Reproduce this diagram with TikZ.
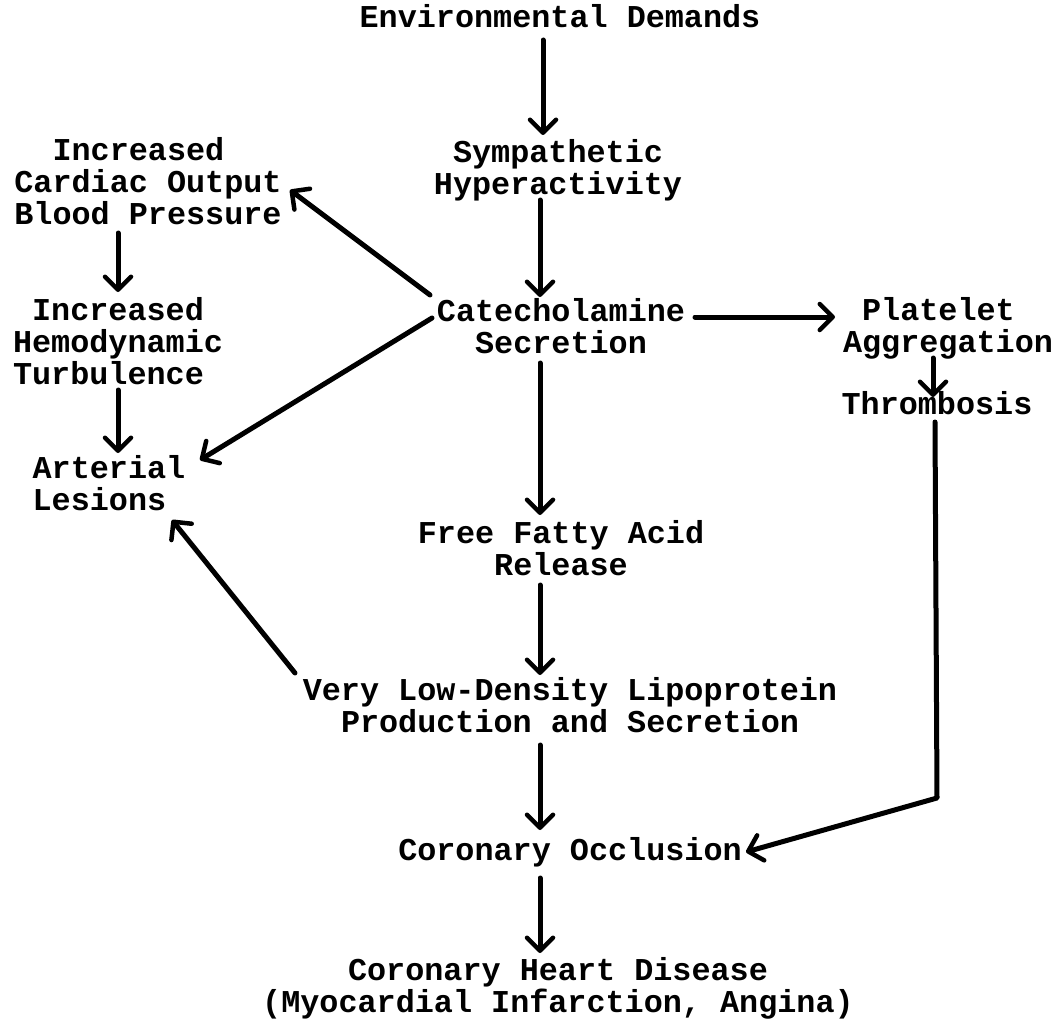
\documentclass[tikz,border=0pt]{standalone}
\usepackage{fontspec}
\setmainfont{Liberation Mono}
\usetikzlibrary{arrows.meta}
\newcommand\indch[1]{\hspace*{#1\dimexpr 19.08pt\relax}}
\begin{document}
\begin{tikzpicture}[x=1pt,y=-1pt,
  lbl/.style={font=\fontsize{31.8}{32}\selectfont\bfseries, align=center, anchor=base, inner sep=0pt},
  arr/.style={line width=5pt, line cap=round, line join=round,
    -{Straight Barb[length=13pt,width=26pt,line width=4.5pt,round]}}]
\useasboundingbox[fill=white] (0,0) rectangle (1058,1030);

% node positions: base anchor = baseline of the last line
\node[lbl] (env)  at (560,28)   {Environmental Demands};
\node[lbl] (symp) at (558,194)  {Sympathetic\\Hyperactivity};
\node[lbl] (cat)  at (561,353)  {Catecholamine\\Secretion};
\node[lbl,align=left] (card) at (148,224)  {\indch{2}Increased\\Cardiac Output\\Blood Pressure};
\node[lbl,align=left] (hemo) at (118,384)  {\indch{1}Increased\\Hemodynamic\\Turbulence};
\node[lbl,align=left] (art)  at (109,510)  {Arterial\\Lesions};
\node[lbl,align=left] (plat) at (948,352)  {\indch{1}Platelet\\Aggregation};
\node[lbl] (thr)  at (937,414)  {Thrombosis};
\node[lbl] (ffa)  at (561,575)  {Free Fatty Acid\\Release};
\node[lbl] (vldl) at (570,732)  {Very Low-Density Lipoprotein\\Production and Secretion};
\node[lbl] (cocc) at (570,860)  {Coronary Occlusion};
\node[lbl] (chd)  at (558,1012) {Coronary Heart Disease\\(Myocardial Infarction, Angina)};
\coordinate (bend) at (937,798);

\draw[arr] ([shift={(-17,12)}]env.base) -- ([shift={(-15,-59)}]symp.base);
\draw[arr] ([shift={(-18,6)}]symp.base) -- ([shift={(-21,-56)}]cat.base);
\draw[arr] ([shift={(-131,-58)}]cat.base) -- ([shift={(142,-34)}]card.base);
\draw[arr] ([shift={(-129,-35)}]cat.base) -- ([shift={(91,-50)}]art.base);
\draw[arr] ([shift={(134,-36)}]cat.base) -- ([shift={(-113,-35)}]plat.base);
\draw[arr] ([shift={(-30,9)}]card.base) -- ([shift={(0,-92)}]hemo.base);
\draw[arr] ([shift={(0,6)}]hemo.base) -- ([shift={(9,-57)}]art.base);
\draw[arr] ([shift={(-15,6)}]plat.base) -- ([shift={(-4,-17)}]thr.base);
\draw[arr] ([shift={(-21,10)}]cat.base) -- ([shift={(-21,-60)}]ffa.base);
\draw[arr] ([shift={(-21,10)}]ffa.base) -- ([shift={(-30,-57)}]vldl.base);
\draw[arr] ([shift={(-275,-59)}]vldl.base) -- ([shift={(63,10)}]art.base);
\draw[arr] ([shift={(-30,13)}]vldl.base) -- ([shift={(-30,-30)}]cocc.base);
\draw[arr] ([shift={(-2,8)}]thr.base) -- (bend) -- ([shift={(176,-8)}]cocc.base);
\draw[arr] ([shift={(-30,18)}]cocc.base) -- ([shift={(-18,-59)}]chd.base);
\end{tikzpicture}
\end{document}
